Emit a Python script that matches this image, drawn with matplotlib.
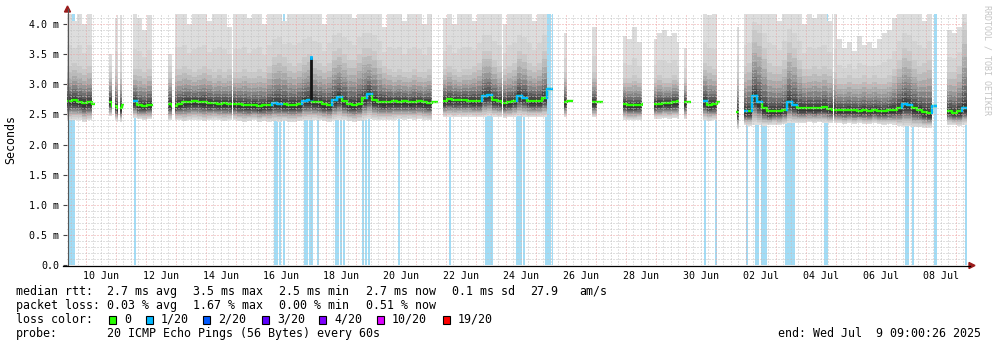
import numpy as np
import pandas as pd
import matplotlib
matplotlib.use("Agg")
from matplotlib import pyplot as plt
from matplotlib.patches import Polygon, Rectangle
from matplotlib.lines import Line2D
from matplotlib.transforms import IdentityTransform
import matplotlib.dates as mdates

plt.rcParams["lines.scale_dashes"] = False

nan = np.nan

# graph window, one bucket every 4 hours
start = pd.Timestamp("2025-06-09 09:00:26")
end = pd.Timestamp("2025-07-09 09:00:26")
bucket_hours = 4

# median rtt per bucket (ms)
rtt_median = [
    2.73, 2.74, 2.71, 2.69, 2.70, 2.68, nan, nan, 2.71, 2.64,
    2.60, 2.66, nan, 2.72, 2.65, 2.64, 2.66, 2.66, nan, nan,
    2.68, 2.64, 2.68, 2.70, 2.71, 2.72, 2.71, 2.70, 2.69, 2.69,
    2.68, 2.69, 2.67, 2.68, 2.67, 2.66, 2.65, 2.66, 2.64, 2.65,
    2.66, 2.69, 2.68, 2.67, 2.66, 2.66, 2.67, 2.73, 2.74, 2.71,
    2.70, 2.67, 2.66, 2.74, 2.79, 2.72, 2.67, 2.66, 2.68, 2.77,
    2.84, 2.74, 2.71, 2.70, 2.71, 2.72, 2.71, 2.72, 2.70, 2.71,
    2.72, 2.70, 2.69, 2.70, nan, 2.73, 2.75, 2.74, 2.74, 2.74,
    2.73, 2.72, 2.72, 2.80, 2.82, 2.74, 2.72, 2.69, 2.70, 2.73,
    2.81, 2.78, 2.73, 2.72, 2.72, 2.78, 2.92, nan, nan, 2.70,
    2.72, nan, nan, nan, nan, 2.70, 2.71, nan, nan, nan,
    nan, 2.68, 2.65, 2.65, 2.66, 2.67, nan, 2.67, 2.68, 2.69,
    2.69, 2.70, 2.72, 2.70, 2.71, nan, nan, 2.72, 2.66, 2.67,
    2.71, nan, nan, nan, 2.54, 2.55, 2.55, 2.80, 2.70, 2.60,
    2.55, 2.56, 2.56, 2.58, 2.71, 2.66, 2.60, 2.60, 2.61, 2.60,
    2.61, 2.62, 2.59, 2.58, 2.57, 2.57, 2.57, 2.57, 2.56, 2.57,
    2.56, 2.57, 2.56, 2.55, 2.57, 2.58, 2.60, 2.67, 2.66, 2.60,
    2.58, 2.54, 2.52, 2.64, nan, nan, 2.56, 2.53, 2.55, 2.60,
]

# fastest ping per bucket (ms)
rtt_fast = [
    2.40, 2.40, 2.41, 2.38, 2.40, 2.42, nan, nan, 2.47, 2.40,
    2.38, 2.42, nan, 2.44, 2.42, 2.41, 2.42, 2.43, nan, nan,
    2.40, 2.41, 2.40, 2.39, 2.40, 2.41, 2.40, 2.39, 2.40, 2.41,
    2.40, 2.39, 2.40, 2.40, 2.39, 2.38, 2.39, 2.40, 2.38, 2.39,
    2.38, 2.39, 2.38, 2.39, 2.38, 2.38, 2.39, 2.40, 2.40, 2.41,
    2.40, 2.39, 2.38, 2.40, 2.41, 2.40, 2.39, 2.38, 2.39, 2.41,
    2.42, 2.41, 2.40, 2.41, 2.40, 2.41, 2.42, 2.41, 2.42, 2.41,
    2.42, 2.41, 2.40, 2.41, nan, 2.45, 2.46, 2.45, 2.46, 2.45,
    2.46, 2.45, 2.45, 2.46, 2.47, 2.46, 2.45, 2.44, 2.45, 2.46,
    2.47, 2.46, 2.45, 2.45, 2.46, 2.46, 2.48, nan, nan, 2.45,
    2.46, nan, nan, nan, nan, 2.45, 2.44, nan, nan, nan,
    nan, 2.41, 2.40, 2.40, 2.41, 2.40, nan, 2.43, 2.43, 2.44,
    2.43, 2.44, 2.43, 2.42, 2.43, nan, nan, 2.40, 2.39, 2.40,
    2.41, nan, nan, nan, 2.25, 2.32, 2.31, 2.33, 2.32, 2.31,
    2.32, 2.33, 2.32, 2.34, 2.36, 2.35, 2.36, 2.36, 2.37, 2.36,
    2.37, 2.36, 2.35, 2.36, 2.35, 2.34, 2.35, 2.34, 2.35, 2.34,
    2.34, 2.35, 2.34, 2.33, 2.34, 2.33, 2.31, 2.30, 2.30, 2.29,
    2.29, 2.28, 2.28, 2.30, nan, nan, 2.33, 2.32, 2.31, 2.33,
]

# ping where the light smoke starts (ms)
rtt_upper = [
    3.30, 3.35, 3.30, 3.25, 3.30, 3.30, nan, nan, 3.20, 3.25,
    3.20, 3.20, nan, 3.25, 3.25, 3.20, 3.25, 3.25, nan, nan,
    3.20, 3.25, 3.25, 3.30, 3.25, 3.20, 3.25, 3.30, 3.25, 3.20,
    3.25, 3.20, 3.25, 3.20, 3.20, 3.25, 3.20, 3.20, 3.25, 3.20,
    3.30, 3.45, 3.50, 3.45, 3.35, 3.30, 3.35, 3.45, 3.50, 3.40,
    3.35, 3.30, 3.35, 3.55, 3.60, 3.50, 3.40, 3.40, 3.50, 3.60,
    3.60, 3.55, 3.40, 3.30, 3.25, 3.20, 3.25, 3.20, 3.20, 3.25,
    3.20, 3.20, 3.25, 3.20, nan, 3.25, 3.30, 3.25, 3.20, 3.25,
    3.25, 3.30, 3.35, 3.55, 3.55, 3.40, 3.30, 3.25, 3.30, 3.35,
    3.55, 3.50, 3.35, 3.30, 3.35, 3.55, 3.90, nan, nan, 3.20,
    3.20, nan, nan, nan, nan, 3.20, 3.20, nan, nan, nan,
    nan, 3.10, 3.10, 3.15, 3.10, 3.10, nan, 3.10, 3.15, 3.10,
    3.10, 3.15, 3.10, 3.10, 3.10, nan, nan, 3.35, 3.30, 3.25,
    3.30, nan, nan, nan, 3.20, 3.30, 3.35, 3.90, 3.85, 3.60,
    3.35, 3.30, 3.30, 3.40, 3.70, 3.60, 3.40, 3.25, 3.25, 3.30,
    3.25, 3.30, 3.25, 3.20, 3.10, 3.10, 3.15, 3.10, 3.10, 3.15,
    3.10, 3.15, 3.10, 3.10, 3.15, 3.25, 3.40, 3.60, 3.55, 3.40,
    3.30, 3.35, 3.40, 3.90, nan, nan, 3.20, 3.20, 3.30, 3.90,
]

# slowest ping per bucket (ms)
rtt_slow = [
    4.30, 4.05, 4.30, 4.00, 4.30, 4.25, nan, nan, 3.50, 4.10,
    4.15, 3.95, nan, 4.20, 4.10, 3.90, 4.15, 4.10, nan, nan,
    3.50, 4.30, 4.30, 4.30, 4.00, 4.30, 4.30, 4.30, 4.05, 4.30,
    4.30, 4.30, 3.95, 4.30, 4.30, 4.30, 4.10, 4.30, 4.30, 4.00,
    4.30, 4.30, 4.30, 4.05, 4.30, 4.30, 4.30, 4.30, 4.30, 4.30,
    4.30, 4.00, 4.30, 4.30, 4.30, 4.30, 4.30, 4.10, 4.30, 4.30,
    4.30, 4.30, 4.30, 3.95, 4.30, 4.30, 4.30, 4.05, 4.30, 4.30,
    4.30, 4.00, 4.30, 4.30, nan, 4.10, 4.30, 4.00, 4.30, 4.30,
    4.30, 4.05, 4.30, 4.30, 4.30, 4.30, 4.30, 4.00, 4.30, 4.30,
    4.30, 4.30, 4.30, 4.05, 4.30, 4.30, 4.30, nan, nan, 3.85,
    3.80, nan, nan, nan, nan, 3.95, 3.85, nan, nan, nan,
    nan, 3.80, 3.75, 3.95, 3.70, 3.60, nan, 3.75, 3.85, 3.90,
    3.80, 3.85, 3.70, 3.60, 3.70, nan, nan, 4.30, 4.15, 4.20,
    4.00, nan, nan, nan, 3.95, 4.30, 4.30, 4.30, 4.30, 4.30,
    4.30, 4.30, 4.05, 4.30, 4.30, 4.30, 4.30, 4.00, 4.30, 4.10,
    4.30, 4.30, 4.05, 4.30, 3.75, 3.60, 3.70, 3.55, 3.80, 3.65,
    3.70, 3.60, 3.75, 3.85, 3.90, 4.10, 4.30, 4.30, 4.30, 4.30,
    4.30, 4.05, 4.30, 4.30, nan, nan, 3.90, 3.85, 3.95, 4.30,
]

# lost pings (of 20) per bucket
loss_bucket = [
    0, 0, 0, 0, 0, 0, 0, 0, 0, 0, 0, 0, 0, 1, 0, 0, 0, 0, 0, 0, 0, 0, 0, 0, 0, 0, 0, 0, 0, 0,
    0, 0, 0, 0, 0, 0, 0, 0, 0, 0, 0, 1, 1, 0, 0, 0, 0, 1, 1, 0, 0, 0, 0, 1, 1, 0, 0, 0, 0, 0,
    1, 0, 0, 0, 0, 0, 0, 0, 0, 0, 0, 0, 0, 0, 0, 0, 0, 0, 0, 0, 0, 0, 0, 1, 1, 0, 0, 0, 0, 0,
    1, 1, 0, 0, 0, 0, 1, 0, 0, 0, 0, 0, 0, 0, 0, 0, 0, 0, 0, 0, 0, 0, 0, 0, 0, 0, 0, 0, 0, 0,
    0, 0, 0, 0, 0, 0, 0, 1, 0, 0, 0, 0, 0, 0, 0, 1, 0, 1, 1, 0, 0, 0, 0, 0, 1, 1, 0, 0, 0, 0,
    0, 0, 0, 0, 0, 0, 0, 0, 0, 0, 0, 0, 0, 0, 0, 0, 0, 1, 1, 0, 0, 0, 0, 1, 0, 0, 0, 0, 0, 1,
]

# minutes with a lost ping
loss_events = [
    "06-09 10:36", "06-09 12:12", "06-09 13:48", "06-11 14:36",
    "06-16 06:36", "06-16 08:12", "06-16 10:36", "06-16 13:48",
    "06-17 06:36", "06-17 08:12", "06-17 10:36", "06-17 12:12", "06-17 17:00",
    "06-18 07:24", "06-18 09:00", "06-18 11:24", "06-18 13:48",
    "06-19 05:24", "06-19 07:48", "06-19 10:12", "06-20 09:48",
    "06-22 02:36", "06-23 07:24", "06-23 09:00", "06-23 10:36", "06-23 12:12",
    "06-24 08:12", "06-24 09:48", "06-24 11:24", "06-24 13:48",
    "06-25 07:24", "06-25 09:00", "06-25 10:36", "06-25 13:00",
    "06-30 14:36", "06-30 23:24", "07-02 00:12", "07-02 07:24", "07-02 09:00",
    "07-02 12:12", "07-02 13:48", "07-02 15:24", "07-03 07:24", "07-03 09:00",
    "07-03 10:36", "07-03 12:12", "07-03 13:48", "07-04 14:36", "07-04 16:12",
    "07-07 07:24", "07-07 09:00", "07-07 13:00", "07-08 06:36", "07-08 08:12",
    "07-09 07:24",
]

# periods without data
outages = [
    ("06-10 07:24", "06-10 18:36"), ("06-10 21:00", "06-10 23:24"),
    ("06-11 01:48", "06-11 03:24"), ("06-11 06:36", "06-11 13:48"),
    ("06-12 05:48", "06-12 17:48"), ("06-12 21:00", "06-12 23:24"),
    ("06-14 21:00", "06-14 21:48"), ("06-21 17:48", "06-21 21:48"),
    ("06-23 21:00", "06-23 21:48"), ("06-25 13:48", "06-25 22:36"),
    ("06-26 05:48", "06-26 21:00"), ("06-27 05:48", "06-27 21:48"),
    ("06-28 13:48", "06-28 22:36"), ("06-29 18:36", "06-29 22:36"),
    ("06-30 04:12", "06-30 13:48"), ("07-01 03:24", "07-01 16:12"),
    ("07-01 18:36", "07-01 22:36"), ("07-04 21:48", "07-04 22:36"),
    ("07-08 09:00", "07-08 17:00"),
]

# single slow sample on 17 Jun
spike_time = "06-17 12:12"
spike_rtt = 3.46

loss_colors = ["#26ff00", "#00b8ff", "#0059ff", "#5e00ff", "#7e00ff", "#dd00ff", "#ff0000"]
loss_labels = ["0", "1/20", "2/20", "3/20", "4/20", "10/20", "19/20"]


def ts(s):
    return mdates.date2num(pd.Timestamp("2025-" + s))


W, H = 997, 347
mono = "DejaVu Sans Mono"
px = IdentityTransform()

fig = plt.figure(figsize=(W / 100, H / 100), dpi=100)
ax = fig.add_axes([67 / W, (H - 265) / H, 900 / W, (265 - 14) / H])
ax.set_facecolor("white")

edge_times = pd.date_range(start, periods=len(rtt_median) + 1, freq=f"{bucket_hours}h")
edges = mdates.date2num(edge_times.to_pydatetime())
med = np.array(rtt_median)
lo = np.array(rtt_fast)
mid = np.array(rtt_upper)
hi = np.array(rtt_slow)


def pad(a):
    return np.append(a, a[-1])


# loss background first, smoke goes on top
for s in loss_events:
    t = ts(s)
    ax.axvspan(t, t + 1.3 / 24, color="#a2dcf5", lw=0, zorder=1)

# smoke: outer ping pairs light, inner pairs dark
up_edges = [hi, mid + 0.35 * (hi - mid), mid]
up_edges += [med + f * (mid - med) for f in (0.82, 0.66, 0.52, 0.40, 0.29, 0.19, 0.11, 0.05)]
lo_edges = [lo + f * (med - lo) for f in (0.0, 0.08, 0.16, 0.24, 0.32, 0.40, 0.47, 0.54, 0.62, 0.70, 0.80)]
shades = ["#dddddd", "#d4d4d4", "#c9c9c9", "#bababa", "#a9a9a9", "#979797",
          "#848484", "#6f6f6f", "#5a5a5a", "#464646", "#363636"]
for u, l, c in zip(up_edges, lo_edges, shades):
    ax.fill_between(edges, pad(l), pad(u), step="post", color=c, lw=0, zorder=2)

# median, coloured by loss
ax.step(edges, pad(med), where="post", color=loss_colors[0], lw=1.7, zorder=2.5)
for i, n in enumerate(loss_bucket):
    if n and not np.isnan(med[i]):
        prev = med[i - 1] if i > 0 and not np.isnan(med[i - 1]) else med[i]
        ax.plot([edges[i], edges[i], edges[i + 1]], [prev, med[i], med[i]],
                color=loss_colors[n], lw=1.7, zorder=2.6)

for a, b in outages:
    ax.axvspan(ts(a), ts(b), color="white", lw=0, zorder=3)

# grid, 1px dots
dot = (0, (0.72, 1.44))
for d in pd.date_range("2025-06-09 12:00", "2025-07-09 06:00", freq="6h"):
    major = d.hour == 0
    ax.axvline(mdates.date2num(d), color="#eea2a2" if major else "#c2c2c2",
               lw=0.72, ls=dot, zorder=4)
for k in range(1, 42):
    major = k % 5 == 0
    ax.axhline(k / 10, color="#eea2a2" if major else "#c2c2c2", lw=0.72, ls=dot,
               zorder=4)

# slow sample drawn over the grid
t = ts(spike_time)
base = med[int((t - edges[0]) * 24 / bucket_hours)]
ax.vlines(t, base, spike_rtt, color="#151515", lw=2, zorder=4.5)
ax.plot([t, t], [spike_rtt - 0.03, spike_rtt], color=loss_colors[1], lw=2, zorder=4.6)

ax.set_xlim(mdates.date2num(start), mdates.date2num(end))
ax.set_ylim(0, 4.166)
for sp in ax.spines.values():
    sp.set_visible(False)

yt = np.arange(0, 4.01, 0.5)
ax.set_yticks(yt)
ax.set_yticklabels(["0.0"] + [f"{v:.1f} m" for v in yt[1:]], family=mono, fontsize=7.2)
ax.tick_params(axis="y", length=3, width=0.8, color="#444444", pad=2.5)

labels = pd.date_range("2025-06-10 12:00", "2025-07-08 12:00", freq="2D")
ax.set_xticks(mdates.date2num(labels.to_pydatetime()))
ax.set_xticklabels([d.strftime("%d %b") for d in labels], family=mono, fontsize=7.2)
ax.tick_params(axis="x", length=0, pad=4)

# axes lines and arrows
fig.add_artist(Line2D([67.5, 67.5], [H - 265, H - 9], color="#555555", lw=0.8, transform=px))
fig.add_artist(Line2D([63, 970], [H - 265.5, H - 265.5], color="black", lw=0.9, transform=px))
fig.add_artist(Polygon([(64.5, H - 12), (70.5, H - 12), (67.5, H - 6)], color="#9b1b1b", transform=px))
fig.add_artist(Polygon([(969, H - 262.5), (969, H - 268.5), (975, H - 265.5)], color="#9b1b1b", transform=px))

fig.text(11, H - 139, "Seconds", rotation=90, family=mono, fontsize=8.4,
         ha="center", va="center", transform=px)
fig.text(987, H - 60, "RRDTOOL / TOBI OETIKER", rotation=270, family=mono, fontsize=6,
         color="#c4c4c4", ha="center", va="center", transform=px)


# legend block
def line(y, items):
    for x, s in items:
        fig.text(x, H - y, s, family=mono, fontsize=8.4, ha="left", va="center", transform=px)


line(291.5, [(16, "median rtt:"), (107, "2.7 ms avg"), (193, "3.5 ms max"), (279, "2.5 ms min"),
             (366, "2.7 ms now"), (452, "0.1 ms sd"), (530, "27.9"), (579, "am/s")])
line(305.5, [(16, "packet loss:"), (107, "0.03 % avg"), (193, "1.67 % max"),
             (279, "0.00 % min"), (366, "0.51 % now")])
line(319.5, [(16, "loss color:")])
box_x = [109, 146, 203, 262, 319, 377, 443]
for x, c, s in zip(box_x, loss_colors, loss_labels):
    fig.add_artist(Rectangle((x, H - 323.5), 7, 8, facecolor=c, edgecolor="black", lw=0.8, transform=px))
    line(319.5, [(x + 15, s)])
line(333.5, [(16, "probe:"), (107, "20 ICMP Echo Pings (56 Bytes) every 60s"),
             (778, "end: Wed Jul  9 09:00:26 2025")])

fig.savefig("out.png", dpi=100)
